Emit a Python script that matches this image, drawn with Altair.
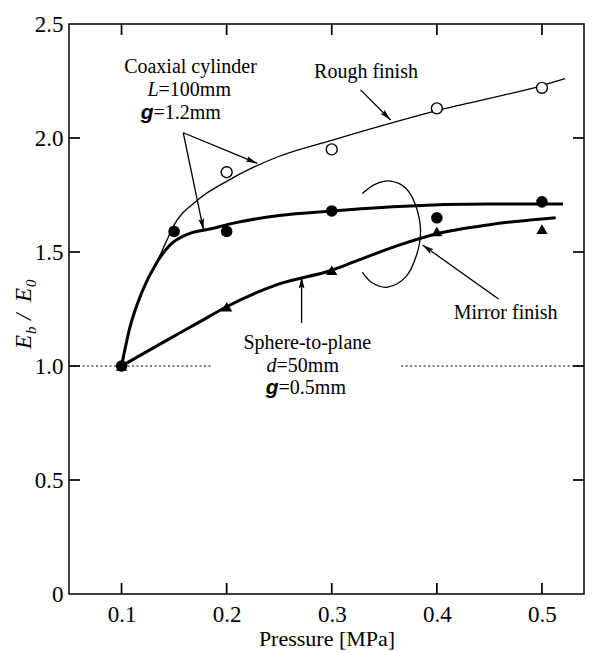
import math
import altair as alt
import pandas as pd

# ---------------- data ----------------
pressure_open = [0.2, 0.3, 0.4, 0.5]
rough_open = [1.85, 1.95, 2.13, 2.22]
pressure_coax = [0.1, 0.15, 0.2, 0.3, 0.4, 0.5]
coax_mirror = [1.0, 1.59, 1.59, 1.68, 1.65, 1.72]
pressure_sphere = [0.1, 0.2, 0.3, 0.4, 0.5]
sphere_mirror = [1.0, 1.26, 1.42, 1.59, 1.60]

rough_fit_x = [0.1, 0.108, 0.119, 0.133, 0.142, 0.149, 0.173, 0.2, 0.25, 0.3, 0.4, 0.5, 0.522]
rough_fit_y = [1.0, 1.17, 1.32, 1.45, 1.54, 1.61, 1.73, 1.81, 1.92, 1.99, 2.12, 2.23, 2.26]
coax_fit_x = [0.1, 0.108, 0.119, 0.133, 0.146, 0.164, 0.183, 0.21, 0.25, 0.3, 0.364, 0.45, 0.52]
coax_fit_y = [1.0, 1.17, 1.32, 1.45, 1.53, 1.58, 1.60, 1.63, 1.66, 1.68, 1.70, 1.71, 1.71]
sphere_fit_x = [0.1, 0.142, 0.173, 0.2, 0.25, 0.3, 0.323, 0.364, 0.4, 0.45, 0.5, 0.513]
sphere_fit_y = [1.0, 1.11, 1.19, 1.26, 1.36, 1.42, 1.46, 1.53, 1.58, 1.62, 1.645, 1.65]

x_tick_values = [0.1, 0.2, 0.3, 0.4, 0.5]
y_tick_values = [0.0, 0.5, 1.0, 1.5, 2.0, 2.5]
y_inner_ticks = [0.5, 1.0, 1.5, 2.0]

ref_seg_x = [0.05, 0.366]
ref_seg_x2 = [0.187, 0.54]

arrow_sx = [0.1587, 0.1587, 0.3274, 0.4587, 0.2713]
arrow_sy = [2.023, 2.023, 2.211, 1.294, 1.189]
arrow_tx = [0.2291, 0.178, 0.356, 0.3864, 0.2713]
arrow_ty = [1.889, 1.596, 2.079, 1.531, 1.390]

ellipse_x = [0.329, 0.3417, 0.356, 0.3702, 0.3797, 0.3845, 0.3807, 0.3702, 0.3531, 0.3388, 0.329]
ellipse_y = [1.757, 1.798, 1.811, 1.781, 1.706, 1.596, 1.487, 1.39, 1.346, 1.364, 1.412]

center_texts = ["Coaxial cylinder", "Rough finish", "Mirror finish", "Sphere-to-plane"]
center_x = [0.1656, 0.3326, 0.4654, 0.2767]
center_y = [2.311, 2.289, 1.232, 1.101]
italic_texts = ["L", "d"]
italic_x = [0.1352, 0.2475]
italic_y = [2.211, 1.0]
g_x = [0.1304, 0.2494]
g_y = [2.11, 0.904]
suffix_texts = ["=100mm", "=1.2mm", "=50mm", "=0.5mm"]
suffix_x = [0.1352, 0.1304, 0.2475, 0.2494]
suffix_y = [2.211, 2.11, 1.0, 0.904]

# ---------------- layout ----------------
X_DOMAIN = [0.05, 0.54]
Y_DOMAIN = [0.0, 2.5]
W, H = 515, 570
SERIF = "Liberation Serif"
kx = W / (X_DOMAIN[1] - X_DOMAIN[0])
ky = H / (Y_DOMAIN[1] - Y_DOMAIN[0])

xscale = alt.Scale(domain=X_DOMAIN, nice=False, zero=False)
yscale = alt.Scale(domain=Y_DOMAIN, nice=False, zero=False)
xaxis = alt.Axis(values=x_tick_values, format=".1f", ticks=False, domain=False, grid=False,
                 labelFont=SERIF, labelFontSize=23, labelColor="black", labelPadding=9,
                 labelFlush=False, title="Pressure [MPa]", titleFont=SERIF, titleFontSize=22,
                 titleFontWeight="normal", titleColor="black", titlePadding=2)
yaxis = alt.Axis(values=y_tick_values, ticks=False, domain=False, grid=False,
                 labelExpr="datum.value == 0 ? '0' : format(datum.value, '.1f')",
                 labelFont=SERIF, labelFontSize=23, labelColor="black", labelPadding=6,
                 labelFlush=False, title="")


def X(f="x"):
    return alt.X(f"{f}:Q", scale=xscale, axis=xaxis)


def Y(f="y"):
    return alt.Y(f"{f}:Q", scale=yscale, axis=yaxis)


ref_df = pd.DataFrame({"x": ref_seg_x, "x2": ref_seg_x2, "y": [1.0] * len(ref_seg_x)})
ref_layer = alt.Chart(ref_df).mark_rule(color="black", strokeWidth=1.2, strokeDash=[2, 2.5]).encode(
    x=X(), x2="x2:Q", y=Y())

rough_line = alt.Chart(pd.DataFrame({"x": rough_fit_x, "y": rough_fit_y})).mark_line(
    color="black", strokeWidth=1.3, interpolate="monotone").encode(x=X(), y=Y())
coax_line = alt.Chart(pd.DataFrame({"x": coax_fit_x, "y": coax_fit_y})).mark_line(
    color="black", strokeWidth=3, interpolate="monotone").encode(x=X(), y=Y())
sphere_line = alt.Chart(pd.DataFrame({"x": sphere_fit_x, "y": sphere_fit_y})).mark_line(
    color="black", strokeWidth=3, interpolate="monotone").encode(x=X(), y=Y())

ell_df = pd.DataFrame({"x": ellipse_x, "y": ellipse_y, "o": list(range(len(ellipse_x)))})
ellipse_layer = alt.Chart(ell_df).mark_line(color="black", strokeWidth=1.3, interpolate="cardinal").encode(
    x=X(), y=Y(), order="o:Q")

# inward axis ticks as two-point line pieces
tdx = 11 / kx
tdy = 11 / ky
tick_rows = []
tid = 0
for v in x_tick_values:
    for y0, y1 in [(Y_DOMAIN[0], Y_DOMAIN[0] + tdy), (Y_DOMAIN[1], Y_DOMAIN[1] - tdy)]:
        tick_rows += [{"id": tid, "o": 0, "x": v, "y": y0}, {"id": tid, "o": 1, "x": v, "y": y1}]
        tid += 1
for v in y_inner_ticks:
    for x0, x1 in [(X_DOMAIN[0], X_DOMAIN[0] + tdx), (X_DOMAIN[1], X_DOMAIN[1] - tdx)]:
        tick_rows += [{"id": tid, "o": 0, "x": x0, "y": v}, {"id": tid, "o": 1, "x": x1, "y": v}]
        tid += 1
tick_layer = alt.Chart(pd.DataFrame(tick_rows)).mark_line(color="black", strokeWidth=1.7).encode(
    x=X(), y=Y(), detail="id:N", order="o:Q")

open_pts = alt.Chart(pd.DataFrame({"x": pressure_open, "y": rough_open})).mark_point(
    shape="circle", size=120, filled=True, fill="white", stroke="black", strokeWidth=1.4, opacity=1).encode(
    x=X(), y=Y())
filled_pts = alt.Chart(pd.DataFrame({"x": pressure_coax, "y": coax_mirror})).mark_circle(
    size=135, color="black", opacity=1).encode(x=X(), y=Y())
tri_pts = alt.Chart(pd.DataFrame({"x": pressure_sphere, "y": sphere_mirror})).mark_point(
    shape="triangle-up", size=125, filled=True, color="black", opacity=1).encode(x=X(), y=Y())

shaft_df = pd.DataFrame({"x": arrow_sx, "y": arrow_sy, "x2": arrow_tx, "y2": arrow_ty})
shaft_layer = alt.Chart(shaft_df).mark_rule(color="black", strokeWidth=1.3).encode(
    x=X(), y=Y(), x2="x2:Q", y2="y2:Q")

angles = []
for sx, sy, tx, ty in zip(arrow_sx, arrow_sy, arrow_tx, arrow_ty):
    dx = (tx - sx) * kx
    dys = -(ty - sy) * ky
    angles.append(math.degrees(math.atan2(dx, -dys)) % 360)
head_df = pd.DataFrame({"x": arrow_tx, "y": arrow_ty, "a": angles})
ARROW = "M0,0L0.55,2.2L0,1.8L-0.55,2.2Z"
head_layer = alt.Chart(head_df).mark_point(shape=ARROW, size=110, filled=True, color="black",
                                           opacity=1, strokeWidth=0).encode(
    x=X(), y=Y(), angle=alt.Angle("a:Q", scale=None))

ctext = alt.Chart(pd.DataFrame({"x": center_x, "y": center_y, "t": center_texts})).mark_text(
    font=SERIF, fontSize=20, color="black", align="center", baseline="middle").encode(
    x=X(), y=Y(), text="t:N")
itext = alt.Chart(pd.DataFrame({"x": italic_x, "y": italic_y, "t": italic_texts})).mark_text(
    font=SERIF, fontSize=20, fontStyle="italic", color="black", align="right", baseline="middle").encode(
    x=X(), y=Y(), text="t:N")
gtext = alt.Chart(pd.DataFrame({"x": g_x, "y": g_y, "t": ["g"] * len(g_x)})).mark_text(
    font="Liberation Sans", fontSize=21, fontStyle="italic", fontWeight="bold", color="black",
    align="right", baseline="middle").encode(x=X(), y=Y(), text="t:N")
stext = alt.Chart(pd.DataFrame({"x": suffix_x, "y": suffix_y, "t": suffix_texts})).mark_text(
    font=SERIF, fontSize=20, color="black", align="left", baseline="middle").encode(
    x=X(), y=Y(), text="t:N")

one = pd.DataFrame({"k": [0]})


def title_piece(txt, px, py, size, italic=True):
    kw = dict(font=SERIF, fontSize=size, color="black", align="left", baseline="alphabetic",
              angle=270, x=px, y=py)
    if italic:
        kw["fontStyle"] = "italic"
    return alt.Chart(one).mark_text(**kw).encode(text=alt.value(txt))


ytitle = [
    title_piece("E", -38, 325, 23),
    title_piece("b", -33, 310, 15),
    title_piece("/", -38, 296, 23),
    title_piece("E", -38, 278, 23),
    title_piece("0", -33, 263, 15),
]

chart = alt.layer(
    ref_layer, tick_layer, ellipse_layer, rough_line, coax_line, sphere_line,
    shaft_layer, head_layer, open_pts, filled_pts, tri_pts,
    ctext, itext, gtext, stext, *ytitle
).properties(
    width=W, height=H,
    padding={"left": 69, "top": 24, "right": 11, "bottom": 58},
    autosize=alt.AutoSizeParams(type="none"),
    background="white",
).configure_view(stroke="black", strokeWidth=1.5)

chart.save("out.html", embed_options={"renderer": "svg", "actions": False})
